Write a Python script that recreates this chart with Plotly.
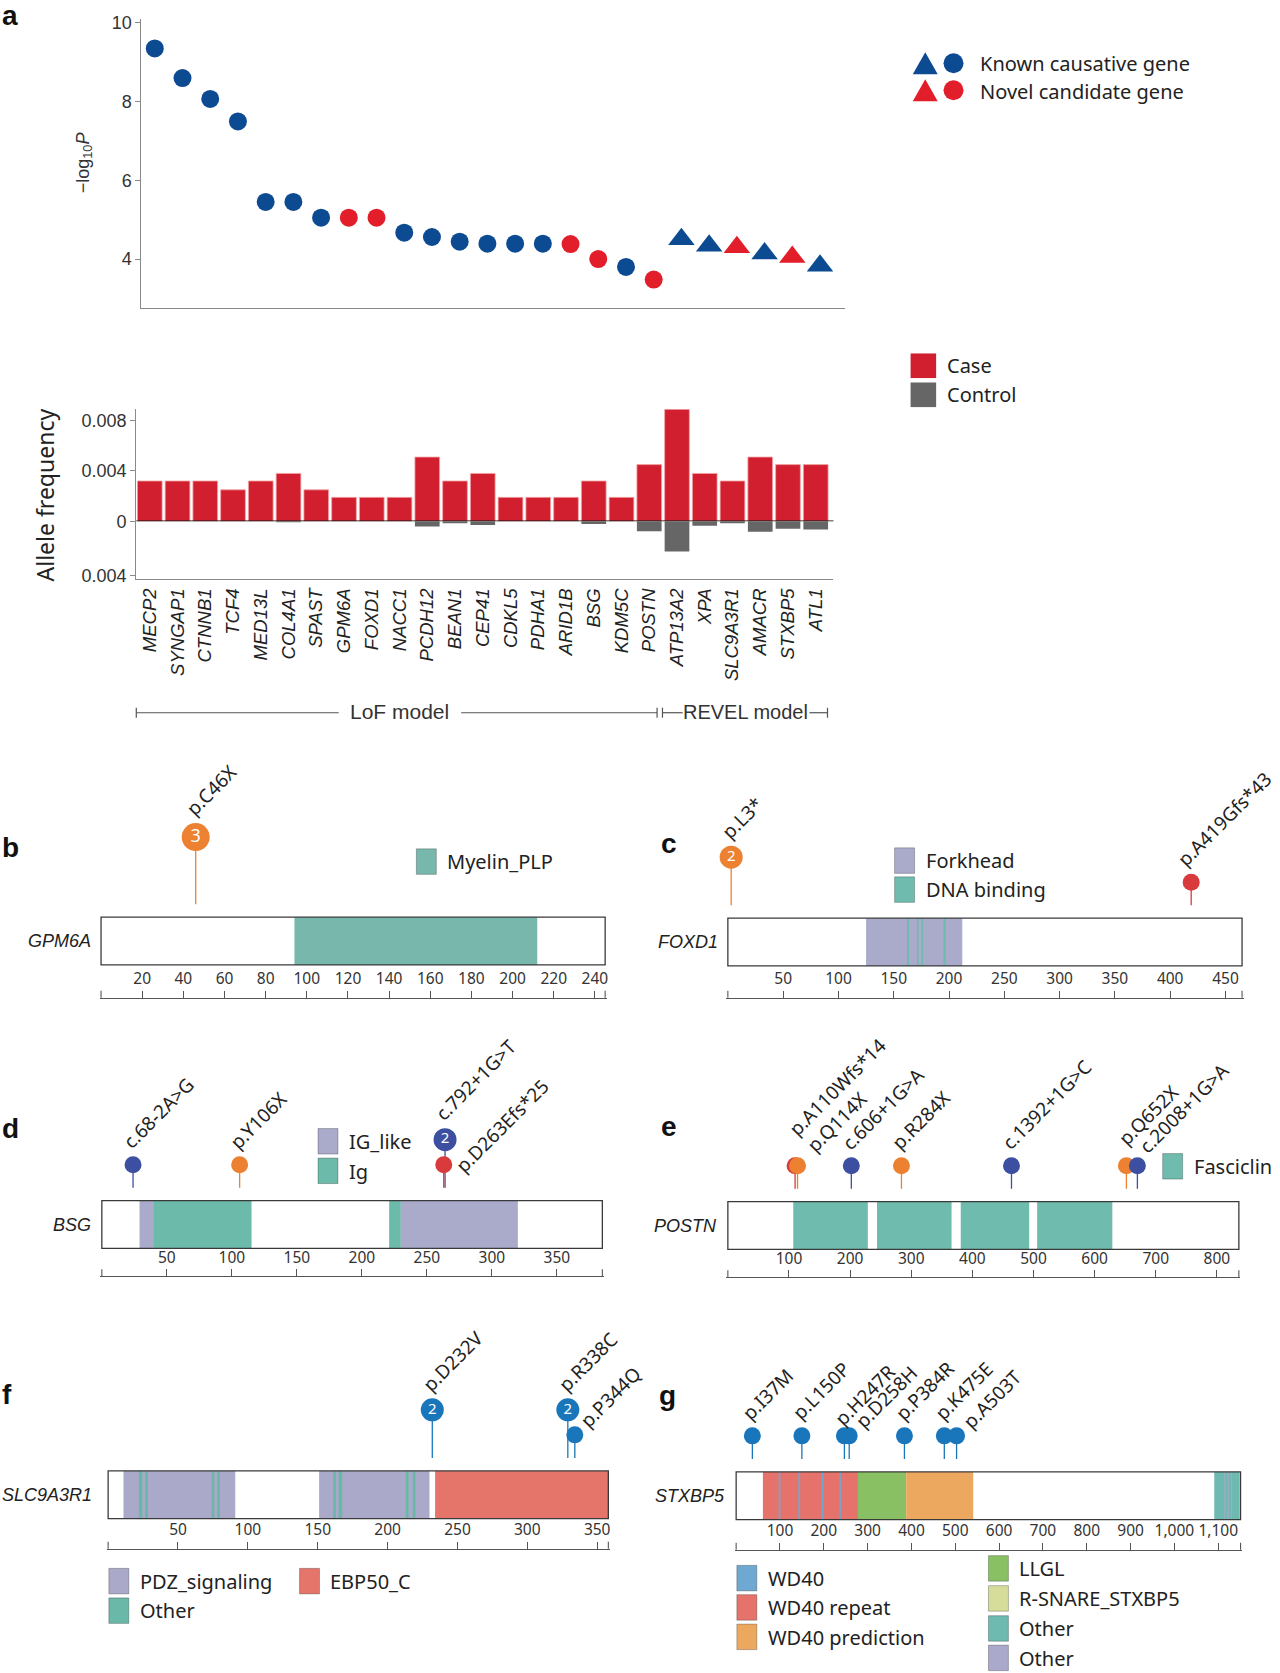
import plotly.graph_objects as go

W, H = 1280, 1673
# vertical calibration of the rendered page (measured offset/scale of the photographed page)
Y_OFF, Y_SCALE = 5.8, 0.9897
def px(x): return x / W
def py(y): return 1 - ((y - Y_OFF) / Y_SCALE) / H

SANS = "Noto Sans, Open Sans, sans-serif"
ARIAL = "Liberation Sans, Arial, sans-serif"
AXC = "#8a8a8a"
TXT = "#222222"

# ---------------- Panel a data ----------------
GENES = ["MECP2", "SYNGAP1", "CTNNB1", "TCF4", "MED13L", "COL4A1", "SPAST", "GPM6A",
         "FOXD1", "NACC1", "PCDH12", "BEAN1", "CEP41", "CDKL5", "PDHA1", "ARID1B", "BSG",
         "KDM5C", "POSTN", "ATP13A2", "XPA", "SLC9A3R1", "AMACR", "STXBP5", "ATL1"]
MODEL = ["LoF"] * 19 + ["REVEL"] * 6
NEG_LOG10_P = [9.34, 8.59, 8.06, 7.49, 5.45, 5.45, 5.05, 5.05, 5.05, 4.67, 4.56, 4.44,
               4.39, 4.39, 4.39, 4.38, 4.00, 3.80, 3.48, 4.50, 4.34, 4.30, 4.14, 4.05, 3.83]
GENE_STATUS = (["known"] * 7 + ["novel", "novel"] + ["known"] * 6 +
               ["novel", "novel", "known", "novel"] +
               ["known", "known", "novel", "known", "novel", "known"])
CASE_AF = [0.0032, 0.0032, 0.0032, 0.0025, 0.0032, 0.0038, 0.0025, 0.0019, 0.0019, 0.0019,
           0.0051, 0.0032, 0.0038, 0.0019, 0.0019, 0.0019, 0.0032, 0.0019, 0.0045, 0.0089,
           0.0038, 0.0032, 0.0051, 0.0045, 0.0045]
CONTROL_AF = [0, 0, 0, 0, 0, 0.00007, 0, 0, 0, 0, 0.00039, 0.00015, 0.00027, 0, 0, 0,
              0.0002, 0, 0.00073, 0.00222, 0.00032, 0.00015, 0.00076, 0.00054, 0.00061]
SCATTER_TICKS = [4, 6, 8, 10]

# ---------------- Protein panels data ----------------
GPM6A_LEN = 245
GPM6A_DOMAINS = [("Myelin_PLP", 94, 212)]
GPM6A_MUTS = [("p.C46X", 46, 3, "nonsense")]
GPM6A_TICKS = [20, 40, 60, 80, 100, 120, 140, 160, 180, 200, 220, 240]

FOXD1_LEN = 465
FOXD1_DOMAINS = [("Forkhead", 125, 212), ("DNA binding", 162, 164), ("DNA binding", 171, 172.5),
                 ("DNA binding", 175, 176.5), ("DNA binding", 195, 197)]
FOXD1_MUTS = [("p.L3*", 3, 2, "nonsense"), ("p.A419Gfs*43", 419, 1, "frameshift")]
FOXD1_TICKS = [50, 100, 150, 200, 250, 300, 350, 400, 450]

BSG_LEN = 385
BSG_DOMAINS = [("IG_like", 29, 115), ("Ig", 40, 115), ("Ig", 221, 230), ("IG_like", 230, 320)]
BSG_MUTS = [("c.68-2A>G", 24, 1, "splice"), ("p.Y106X", 106, 1, "nonsense"),
            ("c.792+1G>T", 264, 2, "splice"), ("p.D263Efs*25", 263, 1, "frameshift")]
BSG_TICKS = [50, 100, 150, 200, 250, 300, 350]

POSTN_LEN = 836
POSTN_DOMAINS = [("Fasciclin", 107, 229), ("Fasciclin", 244, 366), ("Fasciclin", 381, 493),
                 ("Fasciclin", 506, 629)]
POSTN_MUTS = [("p.A110Wfs*14", 110, 1, "frameshift"), ("p.Q114X", 114, 1, "nonsense"),
              ("c.606+1G>A", 202, 1, "splice"), ("p.R284X", 284, 1, "nonsense"),
              ("c.1392+1G>C", 464, 1, "splice"), ("p.Q652X", 652, 1, "nonsense"),
              ("c.2008+1G>A", 670, 1, "splice")]
POSTN_TICKS = [100, 200, 300, 400, 500, 600, 700, 800]

SLC9A3R1_LEN = 358
SLC9A3R1_DOMAINS = [("PDZ_signaling", 11, 91), ("PDZ_signaling", 151, 230),
                    ("Other", 22, 24.5), ("Other", 26.5, 28.5), ("Other", 74, 76), ("Other", 78, 80),
                    ("Other", 161, 163), ("Other", 165, 167.5), ("Other", 213, 215), ("Other", 218, 220),
                    ("EBP50_C", 234, 358)]
SLC9A3R1_MUTS = [("p.D232V", 232, 2, "missense"), ("p.R338C", 329, 2, "missense"),
                 ("p.P344Q", 334, 1, "missense")]
SLC9A3R1_TICKS = [50, 100, 150, 200, 250, 300, 350]

STXBP5_LEN = 1151
STXBP5_DOMAINS = [("WD40 repeat", 61, 278), ("WD40", 97, 101), ("WD40", 142, 146),
                  ("WD40", 195, 199), ("WD40", 236, 239), ("LLGL", 278, 388),
                  ("WD40 prediction", 388, 541), ("Other_teal", 1091, 1149),
                  ("Other_lav", 1114, 1116), ("Other_lav", 1122, 1124), ("Other_lav", 1129, 1131)]
STXBP5_MUTS = [("p.I37M", 37, 1, "missense"), ("p.L150P", 150, 1, "missense"),
               ("p.H247R", 247, 1, "missense"), ("p.D258H", 258, 1, "missense"),
               ("p.P384R", 384, 1, "missense"), ("p.K475E", 475, 1, "missense"),
               ("p.A503T", 503, 1, "missense")]
STXBP5_TICKS = [100, 200, 300, 400, 500, 600, 700, 800, 900, 1000, 1100]

# ---------------- Styles ----------------
STATUS_COLOR = {"known": "#0c4a92", "novel": "#e31e2b"}
MODEL_SYMBOL = {"LoF": "circle", "REVEL": "triangle-up"}
MODEL_SIZE = {"LoF": 18, "REVEL": 23}
MUT_COLOR = {"nonsense": "#ec8131", "frameshift": "#d93a3b", "splice": "#3d4fa1", "missense": "#1a76bb"}
DOM_COLOR = {"Myelin_PLP": "#78b8ac", "Forkhead": "#aaaacb", "DNA binding": "#6fbcae",
             "IG_like": "#aaaacb", "Ig": "#6cbaa9", "Fasciclin": "#6fbbad",
             "PDZ_signaling": "#aba9c9", "Other": "#6ab8a8", "EBP50_C": "#e5746b",
             "WD40": "#6fa8d1", "WD40 repeat": "#e5736b", "WD40 prediction": "#eda85f",
             "LLGL": "#89c064", "R-SNARE_STXBP5": "#d6dd9a", "Other_teal": "#6fbab0",
             "Other_lav": "#aaa9cc"}
BOX_H = 47.7
PANEL_PX = 160
STEM = {1: 36, 2: 61, 3: 80}
HEAD = {1: 17, 2: 23, 3: 28}
STEM_GAP = 13
LABEL_NUDGE = {"p.D263Efs*25": (21, 23.5), "p.A110Wfs*14": (3.6, -14), "p.Q114X": (19, 2.8),
               "p.Q652X": (1.6, -4.6), "c.2008+1G>A": (11.7, 3.7), "p.P344Q": (15, 9),
               "p.D258H": (16, 8.2), "p.H247R": (0, 5), "p.A503T": (16, 8.5),
               "p.A419Gfs*43": (-4, 0)}

fig = go.Figure()
layout = {}
shapes = []
annotations = []

def ann(x, y, text, size=18, xanchor="left", yanchor="middle", family=SANS, color=TXT, angle=0, **kw):
    d = dict(x=x, y=y, xref=kw.pop("xref", "paper"), yref=kw.pop("yref", "paper"), text=text,
             showarrow=False, xanchor=xanchor, yanchor=yanchor, textangle=angle,
             font=dict(size=size, family=family, color=color))
    d.update(kw)
    annotations.append(d)

# ---------------- Panel a: scatter ----------------
fig.add_trace(go.Scatter(
    x=GENES, y=NEG_LOG10_P, mode="markers", xaxis="x", yaxis="y", cliponaxis=False,
    marker=dict(color=[STATUS_COLOR[s] for s in GENE_STATUS],
                symbol=[MODEL_SYMBOL[m] for m in MODEL], opacity=1,
                size=[MODEL_SIZE[m] for m in MODEL], line=dict(width=0)),
    hoverinfo="skip"))
layout["xaxis"] = dict(domain=[px(141.7), px(846)], range=[-0.48, 24.89], type="category",
                       categoryorder="array", categoryarray=GENES, anchor="y",
                       showline=True, linecolor=AXC, linewidth=1.3, showticklabels=False,
                       ticks="", showgrid=False, zeroline=False)
layout["yaxis"] = dict(domain=[py(308), py(18.3)], range=[2.749, 10.10], anchor="x",
                       tickvals=SCATTER_TICKS, ticks="outside", ticklen=5, tickcolor=AXC,
                       showline=True, linecolor=AXC, linewidth=1.3, showgrid=False, zeroline=False,
                       tickfont=dict(size=18, color="#333", family=ARIAL))
ann(px(84), py(162), "\u2212log<sub>10</sub><i>P</i>", size=18, xanchor="center", angle=-90, family=ARIAL, color="#333")

# legend a
for (status, yc) in (("known", 63), ("novel", 90)):
    c = STATUS_COLOR[status]
    shapes.append(dict(type="path", xref="paper", yref="paper",
                       path=f"M {px(914.2)} {py(yc+11)} L {px(939.2)} {py(yc+11)} L {px(926.7)} {py(yc-11)} Z",
                       fillcolor=c, line=dict(width=0)))
    shapes.append(dict(type="circle", xref="paper", yref="paper", x0=px(945), x1=px(965),
                       y0=py(yc+10), y1=py(yc-10), fillcolor=c, line=dict(width=0)))
ann(px(980), py(63), "Known causative gene", size=20)
ann(px(980), py(91), "Novel candidate gene", size=20)

# ---------------- Panel a: bars ----------------
fig.add_trace(go.Bar(x=GENES, y=CASE_AF, xaxis="x2", yaxis="y2",
                     marker=dict(color="#d11f30", line=dict(color="#f2a3a3", width=0.8)), hoverinfo="skip"))
fig.add_trace(go.Bar(x=GENES, y=[-v for v in CONTROL_AF], xaxis="x2", yaxis="y3",
                     marker=dict(color="#666666", line=dict(width=0)), hoverinfo="skip"))
layout["xaxis2"] = dict(domain=[px(136.5), px(834.8)], range=[-0.486, 24.64], type="category",
                        categoryorder="array", categoryarray=GENES, anchor="y3",
                        showline=True, linecolor=AXC, linewidth=1.3, showgrid=False, zeroline=False,
                        tickvals=GENES, ticktext=[f"<i>{g}</i>" for g in GENES], tickangle=-90,
                        ticks="outside", ticklen=1, tickcolor="rgba(0,0,0,0)",
                        tickfont=dict(size=18.5, color="#222", family=ARIAL))
layout["yaxis2"] = dict(domain=[py(520.7), py(408.7)], range=[0, 0.0089], anchor="x2",
                        tickvals=[0, 0.004, 0.008], ticktext=["0", "0.004", "0.008"],
                        ticks="outside", ticklen=5, tickcolor=AXC, showline=True, linecolor=AXC,
                        linewidth=1.3, showgrid=False, zeroline=False,
                        tickfont=dict(size=18, color="#333", family=ARIAL))
layout["yaxis3"] = dict(domain=[py(578.3), py(520.7)], range=[-0.00422, 0], anchor="x2",
                        tickvals=[-0.004], ticktext=["0.004"],
                        ticks="outside", ticklen=5, tickcolor=AXC, showline=True, linecolor=AXC,
                        linewidth=1.3, showgrid=False, zeroline=False,
                        tickfont=dict(size=18, color="#333", family=ARIAL))
shapes.append(dict(type="line", xref="x2 domain", yref="y2", x0=0, x1=1, y0=0, y1=0,
                   line=dict(color="black", width=1.8)))
ann(px(45), py(494), "Allele frequency", size=23, xanchor="center", angle=-90, color="#222")
# case/control legend
for (lbl, col, y0) in (("Case", "#d11f30", 353), ("Control", "#666666", 382)):
    shapes.append(dict(type="rect", xref="paper", yref="paper", x0=px(912), x1=px(937.6),
                       y0=py(y0 + 24.6), y1=py(y0), fillcolor=col, line=dict(width=0)))
    ann(px(946), py(y0 + 12.3), lbl, size=20)
# model brackets
LC = "#555555"
for (a, b) in ((136.5, 339.2), (461.9, 658.1), (663.5, 683.7), (810.7, 828.8)):
    shapes.append(dict(type="line", xref="paper", yref="paper", x0=px(a), x1=px(b),
                       y0=py(712), y1=py(712), line=dict(color=LC, width=1.2)))
for xx in (136.5, 658.1, 663.5, 828.8):
    shapes.append(dict(type="line", xref="paper", yref="paper", x0=px(xx), x1=px(xx),
                       y0=py(707), y1=py(717), line=dict(color=LC, width=1.2)))
ann(px(400), py(711), "LoF model", size=21, xanchor="center", family=ARIAL, color="#333")
ann(px(746.5), py(711), "REVEL model", size=20, xanchor="center", family=ARIAL, color="#333")

# ---------------- Protein panels ----------------
PANELS = [
    dict(n=4, gene="GPM6A", L=GPM6A_LEN, dom=GPM6A_DOMAINS, muts=GPM6A_MUTS, ticks=GPM6A_TICKS,
         geom=(101.2, 606.1, 964.0, 996.7), glabel=93),
    dict(n=5, gene="FOXD1", L=FOXD1_LEN, dom=FOXD1_DOMAINS, muts=FOXD1_MUTS, ticks=FOXD1_TICKS,
         geom=(729.0, 1244.0, 965.0, 996.7), glabel=721),
    dict(n=6, gene="BSG", L=BSG_LEN, dom=BSG_DOMAINS, muts=BSG_MUTS, ticks=BSG_TICKS,
         geom=(102.0, 603.3, 1247.3, 1275.0), glabel=93),
    dict(n=7, gene="POSTN", L=POSTN_LEN, dom=POSTN_DOMAINS, muts=POSTN_MUTS, ticks=POSTN_TICKS,
         geom=(729.0, 1240.8, 1248.3, 1276.0), glabel=720),
    dict(n=8, gene="SLC9A3R1", L=SLC9A3R1_LEN, dom=SLC9A3R1_DOMAINS, muts=SLC9A3R1_MUTS,
         ticks=SLC9A3R1_TICKS, geom=(108.3, 609.3, 1517.3, 1547.3), glabel=94),
    dict(n=9, gene="STXBP5", L=STXBP5_LEN, dom=STXBP5_DOMAINS, muts=STXBP5_MUTS,
         ticks=STXBP5_TICKS, geom=(737.3, 1242.5, 1518.3, 1548.3), glabel=728),
]

for P in PANELS:
    n = P["n"]; L = P["L"]
    x0, x1, ybot, ruler = P["geom"]
    xa, ya = f"x{n}", f"y{n}"
    scale = (x1 - x0) / L
    pad = 1.5
    layout[f"xaxis{n}"] = dict(domain=[px(x0 - pad), px(x1 + pad)], range=[-pad / scale, L + pad / scale],
                               anchor="free", position=py(ruler), side="top",
                               showline=True, linecolor="#555", linewidth=1.2,
                               ticks="outside", ticklen=7, tickcolor="#555", tickwidth=1.1,
                               tickvals=P["ticks"], ticktext=[f"{t:,}" for t in P["ticks"]],
                               tickfont=dict(size=15.5, color="#333", family=SANS),
                               showgrid=False, zeroline=False)
    layout[f"yaxis{n}"] = dict(domain=[py(ybot + 2), py(ybot + 2 - PANEL_PX)], range=[-2, PANEL_PX - 2],
                               anchor=xa, visible=False)
    for xv in (0, L):
        shapes.append(dict(type="line", xref=xa, yref="paper", x0=xv, x1=xv,
                           y0=py(ruler), y1=py(ruler - 7), line=dict(color="#555", width=1.1)))
    for (name, s, e) in P["dom"]:
        shapes.append(dict(type="rect", xref=xa, yref=ya, x0=s, x1=e, y0=0, y1=BOX_H,
                           fillcolor=DOM_COLOR[name], line=dict(width=0), layer="below"))
    shapes.append(dict(type="rect", xref=xa, yref=ya, x0=0, x1=L, y0=0, y1=BOX_H,
                       fillcolor="rgba(0,0,0,0)", line=dict(color="#3a3a3a", width=1.3)))
    ann(px(P["glabel"]), py(ybot - BOX_H / 2), f"<i>{P['gene']}</i>", size=18, xanchor="right",
        family=ARIAL, color="#222")
    for (lbl, pos, cnt, kind) in P["muts"]:
        col = MUT_COLOR[kind]
        cy = BOX_H + STEM[cnt]
        fig.add_trace(go.Scatter(x=[pos, pos], y=[BOX_H + STEM_GAP, cy], mode="lines", xaxis=xa, yaxis=ya,
                                 line=dict(color=col, width=1.3), hoverinfo="skip"))
        head = dict(x=[pos], y=[cy], xaxis=xa, yaxis=ya, cliponaxis=False, hoverinfo="skip",
                    marker=dict(size=HEAD[cnt], color=col, opacity=1, line=dict(width=0)))
        if cnt > 1:
            head.update(mode="markers+text", text=[str(cnt)], textposition="middle center",
                        textfont=dict(color="white", size=15 if cnt == 2 else 18, family=SANS))
        else:
            head.update(mode="markers")
        fig.add_trace(go.Scatter(**head))
        ndx, ndy = LABEL_NUDGE.get(lbl, (0, 0))
        r = HEAD[cnt] / 2
        ann(pos, cy, lbl, size=19, xanchor="left", yanchor="bottom", angle=-45, xref=xa, yref=ya,
            xshift=-18 + ndx, yshift=r - 1 - ndy, family=SANS, color="#222")

# protein legends
LEGENDS = [
    ("Myelin_PLP", "Myelin_PLP", 417, 848),
    ("Forkhead", "Forkhead", 896, 847), ("DNA binding", "DNA binding", 896, 876),
    ("IG_like", "IG_like", 318.5, 1127.5), ("Ig", "Ig", 318.5, 1157),
    ("Fasciclin", "Fasciclin", 1164.5, 1152.5),
    ("PDZ_signaling", "PDZ_signaling", 109, 1567), ("Other", "Other", 109, 1596.5),
    ("EBP50_C", "EBP50_C", 300, 1567),
    ("WD40", "WD40", 738, 1564), ("WD40 repeat", "WD40 repeat", 738, 1593.3),
    ("WD40 prediction", "WD40 prediction", 738, 1622.7),
    ("LLGL", "LLGL", 990, 1554.3), ("R-SNARE_STXBP5", "R-SNARE_STXBP5", 990, 1584.3),
    ("Other", "Other_teal", 990, 1614.3), ("Other", "Other_lav", 990, 1643.7),
]
for (text, key, sx, sy) in LEGENDS:
    shapes.append(dict(type="rect", xref="paper", yref="paper", x0=px(sx), x1=px(sx + 20),
                       y0=py(sy + 25.5), y1=py(sy), fillcolor=DOM_COLOR[key],
                       line=dict(color="rgba(0,0,0,0.25)", width=1)))
    ann(px(sx + 29), py(sy + 13), text, size=20)

# panel letters
for (letter, x, yc) in (("a", 0, 15.5), ("b", 0, 846.5), ("c", 660, 842.5), ("d", 0, 1127.5),
                        ("e", 660, 1125.5), ("f", 0, 1393.5), ("g", 658, 1394.5)):
    ann(px(x), py(yc), f"<b>{letter}</b>", size=28, family=ARIAL, color="#111")

layout.update(dict(width=W, height=H, margin=dict(l=0, r=0, t=0, b=0),
                   paper_bgcolor="white", plot_bgcolor="rgba(0,0,0,0)", showlegend=False,
                   barmode="relative", bargap=0.11, shapes=shapes, annotations=annotations,
                   font=dict(family=SANS, color=TXT), hovermode=False))
fig.update_layout(**layout)
fig.write_html("out.html", config={"displayModeBar": False},
               post_script=("document.documentElement.style.overflow='hidden';"
                            "document.body.style.margin='0';document.body.style.padding='0';"
                            "var g=document.getElementById('{plot_id}');"
                            "g.style.position='fixed';g.style.left='0px';g.style.top='0px';"))
